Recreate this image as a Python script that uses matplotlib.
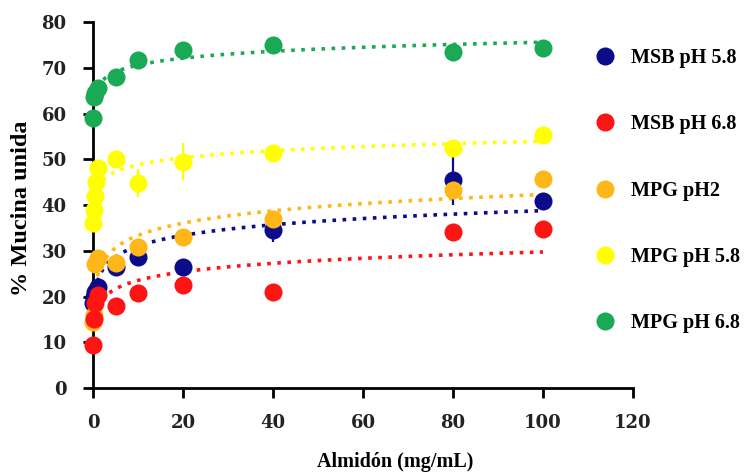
import numpy as np
import matplotlib
matplotlib.use("Agg")
import matplotlib.pyplot as plt
from matplotlib.lines import Line2D

# Mucin binding vs starch concentration
labels = ["MSB pH 5.8", "MSB pH 6.8", "MPG pH2", "MPG pH 5.8", "MPG pH 6.8"]
colors = ["#0c0c8a", "#ff1414", "#ffb619", "#ffff00", "#1aaa55"]

msb58_x = [0.1, 0.25, 0.5, 1, 5, 10, 20, 40, 80, 100]
msb58_y = [18.5, 20.0, 21.0, 22.0, 26.5, 28.6, 26.5, 34.5, 45.5, 40.9]
msb58_e = [1.0, 1.0, 1.0, 1.0, 1.5, 1.0, 1.0, 2.5, 5.5, 1.0]

msb68_x = [0.1, 0.25, 0.5, 1, 5, 10, 20, 40, 80, 100]
msb68_y = [9.4, 15.0, 18.5, 20.3, 18.0, 20.7, 22.5, 21.0, 34.0, 34.7]
msb68_e = [0.5, 0.5, 0.5, 0.5, 0.5, 0.5, 0.5, 0.5, 0.5, 0.5]

mpg2_x = [0.1, 0.25, 0.5, 1, 5, 10, 20, 40, 80, 100]
mpg2_y = [14.5, 16.0, 27.0, 28.5, 27.3, 30.8, 33.0, 37.0, 43.3, 45.7]
mpg2_e = [1.0, 1.0, 1.0, 1.0, 2.0, 1.0, 1.5, 1.5, 2.0, 1.0]

mpg58_x = [0.1, 0.25, 0.5, 0.75, 1, 5, 10, 20, 40, 80, 100]
mpg58_y = [36.0, 39.0, 42.0, 45.0, 48.0, 50.0, 44.8, 49.5, 51.3, 52.4, 55.3]
mpg58_e = [1.0, 1.0, 1.0, 1.0, 1.0, 1.0, 3.0, 4.0, 1.0, 1.0, 1.0]

mpg68_x = [0.1, 0.25, 0.5, 1, 5, 10, 20, 40, 80, 100]
mpg68_y = [59.0, 63.6, 64.5, 65.5, 68.0, 71.7, 73.9, 75.0, 73.4, 74.3]
mpg68_e = [0.5, 0.5, 0.5, 0.5, 0.5, 0.5, 0.5, 1.0, 0.5, 0.5]

series = [(msb58_x, msb58_y, msb58_e), (msb68_x, msb68_y, msb68_e),
          (mpg2_x, mpg2_y, mpg2_e), (mpg58_x, mpg58_y, mpg58_e),
          (mpg68_x, mpg68_y, mpg68_e)]

serif = "Liberation Serif"

fig = plt.figure(figsize=(7.48, 4.73), dpi=100)
ax = fig.add_axes([93 / 748, 1 - 388 / 473, 540 / 748, 366 / 473])

# draw order roughly as in the picture
for i in [0, 2, 1, 3, 4]:
  x, y, e = series[i]
  x = np.array(x)
  y = np.array(y)
  # logarithmic trendline fitted to the points
  a, b = np.polyfit(np.log(x), y, 1)
  xs = np.linspace(1, x.max(), 400)
  ax.plot(xs, a * np.log(xs) + b, color=colors[i], lw=2.6,
          linestyle=(0, (1, 1.8)), zorder=2, clip_on=False)
  ax.errorbar(x, y, yerr=e, fmt="o", color=colors[i], ms=13, mew=0,
              elinewidth=1.6, capsize=2.5, capthick=1.4, zorder=3, clip_on=False)

ax.set_xlim(0, 120)
ax.set_ylim(0, 80)
ax.set_xticks(np.arange(0, 121, 20))
ax.set_yticks(np.arange(0, 81, 10))
for s in ["top", "right"]:
  ax.spines[s].set_visible(False)
for s in ["left", "bottom"]:
  ax.spines[s].set_linewidth(2)
ax.tick_params(direction="out", length=7, width=2, pad=12)
for lab in ax.get_xticklabels() + ax.get_yticklabels():
  lab.set_fontfamily("DejaVu Serif")
  lab.set_fontweight("bold")
  lab.set_fontsize(13)
  lab.set_color("#222222")

fig.text(395 / 748, 1 - 462 / 473, "Almidón (mg/mL)", ha="center", va="center",
         fontfamily=serif, fontweight="bold", fontsize=14.5)
fig.text(22 / 748, 1 - 208 / 473, "% Mucina unida", ha="center", va="center",
         rotation=90, fontfamily=serif, fontweight="bold", fontsize=17.5)

handles = [Line2D([], [], marker="o", linestyle="none", color=c, ms=13, mew=0)
           for c in colors]
ax.legend(handles, labels, loc="upper left", bbox_to_anchor=(583 / 748, 1 - 38 / 473),
          bbox_transform=fig.transFigure, frameon=False, borderpad=0,
          handlelength=1.2, handletextpad=0.7, labelspacing=2.3,
          prop={"family": serif, "weight": "bold", "size": 14.5})

plt.savefig("out.png", dpi=100)
